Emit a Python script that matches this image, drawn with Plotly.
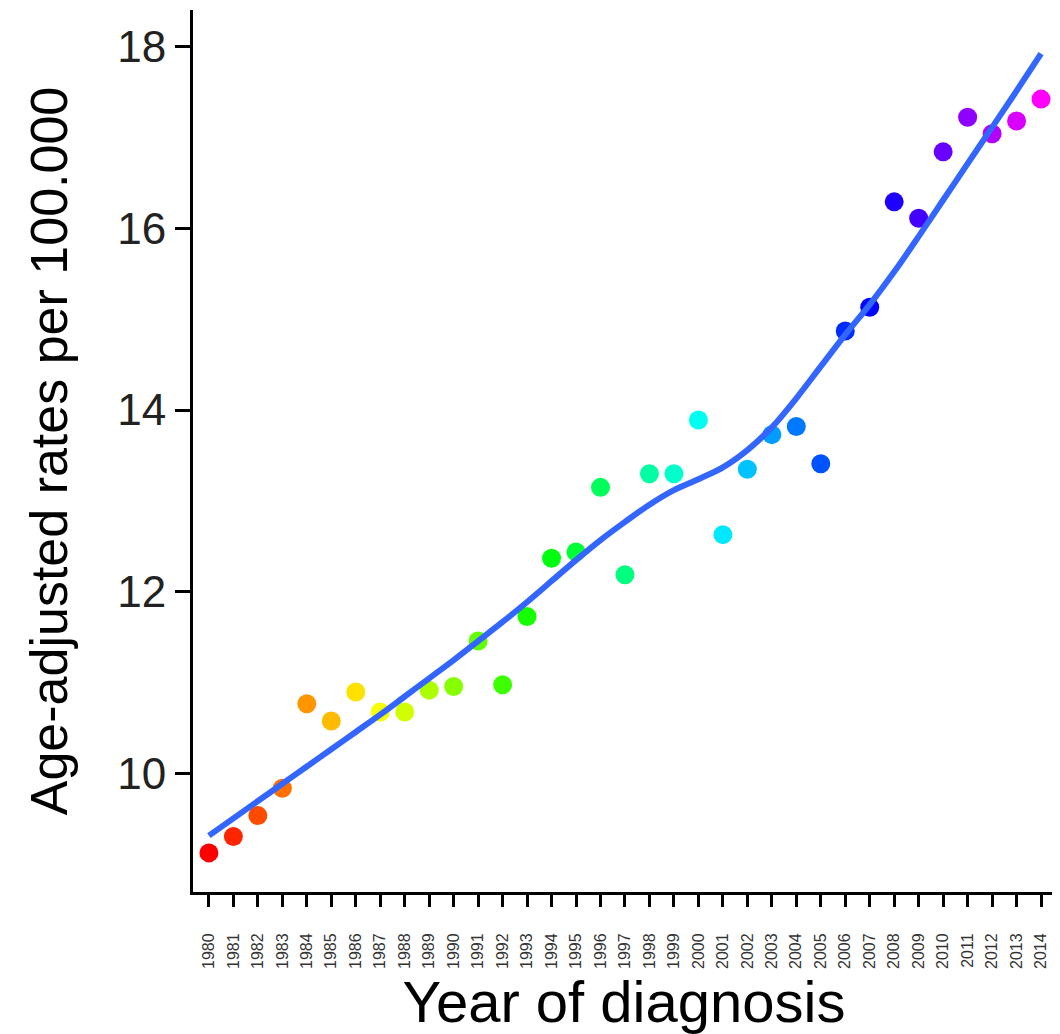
import colorsys
import plotly.graph_objects as go

years = list(range(1980, 2015))
rates = [9.13, 9.31, 9.54, 9.84, 10.77, 10.58, 10.90, 10.68, 10.68, 10.92,
         10.96, 11.46, 10.98, 11.73, 12.37, 12.44, 13.15, 12.19, 13.30, 13.30,
         13.89, 12.63, 13.35, 13.73, 13.82, 13.41, 14.87, 15.13, 16.29, 16.11,
         16.84, 17.22, 17.04, 17.18, 17.42]
smooth = [9.32, 9.51, 9.70, 9.89, 10.08, 10.27, 10.46, 10.65, 10.85, 11.05,
          11.25, 11.46, 11.67, 11.89, 12.12, 12.35, 12.57, 12.77, 12.96, 13.12,
          13.24, 13.37, 13.56, 13.81, 14.13, 14.48, 14.83, 15.16, 15.52, 15.91,
          16.31, 16.71, 17.11, 17.51, 17.92]
tick_labels = [str(y) for y in years]
y_ticks = [10, 12, 14, 16, 18]

n = len(years)
colors = []
for i in range(n):
    r, g, b = colorsys.hsv_to_rgb((i / (n - 1)) * (300 / 360), 1, 1)
    colors.append(f"rgb({int(r*255)},{int(g*255)},{int(b*255)})")

fig = go.Figure()
fig.add_trace(go.Scatter(x=years, y=rates, mode="markers",
                         marker=dict(size=19, color=colors, line=dict(width=0)),
                         showlegend=False))
fig.add_trace(go.Scatter(x=years, y=smooth, mode="lines",
                         line=dict(color="#3366FF", width=6, shape="spline"),
                         showlegend=False))

fig.update_layout(
    width=1060, height=1034,
    margin=dict(l=185, r=13, t=2, b=150),
    paper_bgcolor="white", plot_bgcolor="white",
    font=dict(family="Liberation Sans, Arial, sans-serif", color="black"),
    xaxis=dict(range=[1979.35, 2014.57], tickvals=years, ticktext=tick_labels,
               tickangle=-90, tickfont=dict(size=16, color="#333"), ticklabelstandoff=20,
               showgrid=False, zeroline=False, showline=True, linecolor="black",
               linewidth=3, ticks="outside", ticklen=12, tickwidth=3, tickcolor="black",
               title=dict(text="Year of diagnosis", font=dict(size=58), standoff=0)),
    yaxis=dict(range=[8.70, 18.40], tickvals=y_ticks, tickfont=dict(size=44, color="#222"),
               showgrid=False, zeroline=False, showline=True, linecolor="black",
               linewidth=3, ticks="outside", ticklen=15, tickwidth=3, tickcolor="black",
               title=dict(text="Age-adjusted rates per 100.000", font=dict(size=52), standoff=34)),
)

fig.write_html("out.html")
